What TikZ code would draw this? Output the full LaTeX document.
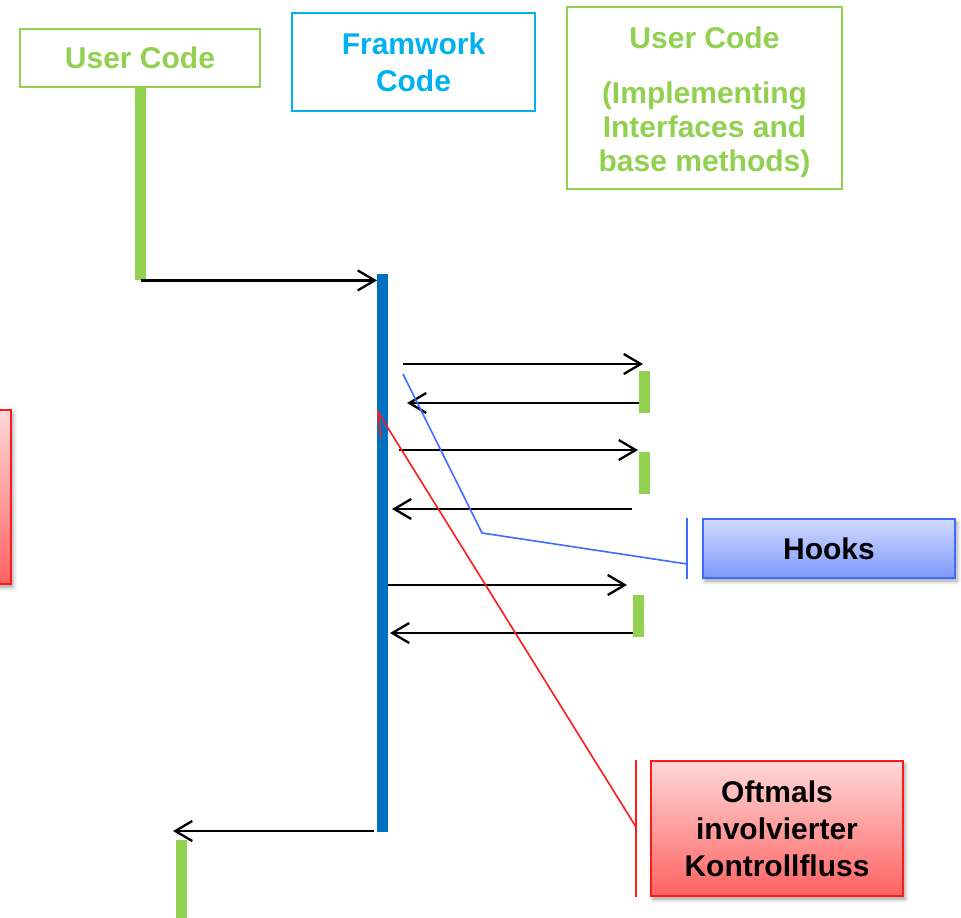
\documentclass[tikz,border=0pt]{standalone}
\usepackage{fontspec}
\setmainfont{Liberation Sans}
\usetikzlibrary{arrows.meta,shadows.blur}
\definecolor{ugreen}{HTML}{92D050}
\definecolor{fblue}{HTML}{0070C0}
\definecolor{fcyan}{HTML}{00B0F0}
\definecolor{hookline}{HTML}{3D6CFF}
\definecolor{hooktop}{HTML}{D2DAFF}
\definecolor{hookbot}{HTML}{7D99FC}
\definecolor{redtop}{HTML}{FFD8D8}
\definecolor{redbot}{HTML}{FF6262}
\definecolor{redline}{HTML}{FF1A1A}

\begin{document}
\begin{tikzpicture}[x=1pt,y=-1pt,
  bigfont/.style={font=\bfseries\fontsize{30}{37}\selectfont},
  codebox/.style={draw=#1, line width=2pt, text=#1, align=center, inner sep=0pt, bigfont},
  bar/.style={fill=#1, inner sep=0pt, anchor=north west, minimum width=11pt},
  call/.style={line width=2.3pt, -{Straight Barb[length=17pt,width=20pt]}},
  note/.style={line width=2pt, align=center, inner sep=0pt, text=black, bigfont,
    blur shadow={shadow xshift=2pt, shadow yshift=-3pt, shadow blur radius=4pt}},
  hooknote/.style={note, draw=hookline, top color=hooktop, bottom color=hookbot},
  rednote/.style={note, draw=redline, top color=redtop, bottom color=redbot},
  pointer/.style={line width=1.6pt, draw=#1}
]
\useasboundingbox (0,0) rectangle (961,918);
\clip (0,0) rectangle (961,918);

% headings of the three columns
\node[codebox=ugreen, minimum width=240pt, minimum height=58pt] (user) at (140,58) {User Code};
\node[codebox=fcyan, minimum width=243pt, minimum height=98pt] (frame) at (413.5,62) {Framwork\\Code};
\node[codebox=ugreen, minimum width=275pt, minimum height=182pt] (impl) at (704.5,98) {};
\node[text=ugreen, align=center, inner sep=0pt,
      font=\bfseries\fontsize{30}{34}\selectfont] (impltext) at (704.5,102)
  {User Code\\[21pt](Implementing\\Interfaces and\\base methods)};

% activation bars
\node[bar=ugreen, minimum height=193pt] (u1) at (135,87) {};
\node[bar=fblue, minimum height=558pt] (fw) at (377,274) {};
\node[bar=ugreen, minimum height=42pt] (g1) at (639,371) {};
\node[bar=ugreen, minimum height=42pt] (g2) at (639,452) {};
\node[bar=ugreen, minimum height=42pt] (g3) at (633,595) {};
\node[bar=ugreen, minimum height=90pt] (u2) at (176,840) {};

% calls between user code and framework code
\draw[call] (u1.south) -- (u1.south -| fw.west);

\coordinate (r1) at (403,364);  \coordinate (r1e) at (643,364);
\coordinate (l1) at (407,403);
\coordinate (r2) at (399,450);  \coordinate (r2e) at (638,450);
\coordinate (l2s) at (632,509); \coordinate (l2) at (392,509);
\coordinate (r3e) at (627,585);
\coordinate (l3) at (390,633);
\coordinate (l4s) at (374,831); \coordinate (l4) at (173,831);

\draw[call] (r1) -- (r1e);
\draw[call] (g1.west |- l1) -- (l1);
\draw[call] (r2) -- (r2e);
\draw[call] (l2s) -- (l2);
\draw[call] (fw.east |- r3e) -- (r3e);
\draw[call] (g3.west |- l3) -- (l3);
\draw[call] (l4s) -- (l4);

% callout: hooks
\node[hooknote, minimum width=252pt, minimum height=59pt] (hooks) at (829,548.5) {Hooks};
\coordinate (hookpin) at (687,564);
\draw[pointer=hookline] (403,374) -- (482,533) -- (hookpin);
\draw[pointer=hookline] (hookpin |- hooks.north) -- (hookpin |- hooks.south);

% callout: inverted control flow
\node[rednote, minimum width=252pt, minimum height=135pt] (flow) at (777,828.5)
  {Oftmals\\involvierter\\Kontrollfluss};
\coordinate (flowpin) at (636,827);
\draw[pointer=redline] (flowpin) -- (378,412) -- (381,438);
\draw[pointer=redline] (flowpin |- flow.north) -- (flowpin |- flow.south);

% partly visible note at the left edge
\node[rednote, minimum width=120pt, minimum height=174pt, anchor=north east] (leftnote) at (12,409) {};
\end{tikzpicture}
\end{document}
